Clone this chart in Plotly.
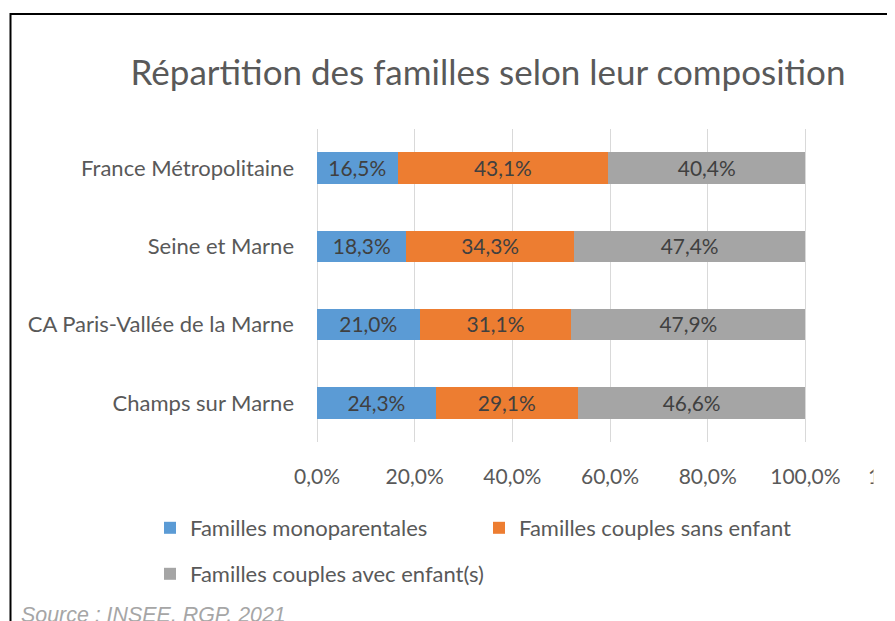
import plotly.graph_objects as go

categories = ["France Métropolitaine", "Seine et Marne", "CA Paris-Vallée de la Marne", "Champs sur Marne"]
series_names = ["Familles monoparentales", "Familles couples sans enfant", "Familles couples avec enfant(s)"]
monoparentales = [16.5, 18.3, 21.0, 24.3]
sans_enfant = [43.1, 34.3, 31.1, 29.1]
avec_enfants = [40.4, 47.4, 47.9, 46.6]
tick_vals = [0, 0.2, 0.4, 0.6, 0.8, 1.0, 1.2]
title_text = "Répartition des familles selon leur composition"
source_text = "Source : INSEE, RGP, 2021"

colors = ["#5B9BD5", "#ED7D31", "#A5A5A5"]
FONT = "Lato"
OFF = 8  # default page body margin
VW, VH = 895, 621
W, H = VW, VH - OFF
# plot area in viewport pixels: x 317..(edge), y 129..442
L = 317 - OFF
R = 0
T = 129 - OFF
B = H - (442 - OFF)
plot_w = W - L - R
plot_h = H - T - B
px_per_unit = 488.4
xmax = plot_w / px_per_unit


def px2paper_x(px):
    return (px - OFF - L) / plot_w


def px2paper_y(py):
    return (H - B - (py - OFF)) / plot_h


fig = go.Figure()
for i, (name, vals) in enumerate(zip(series_names, [monoparentales, sans_enfant, avec_enfants])):
    fig.add_trace(go.Bar(
        y=categories,
        x=[v / 100 for v in vals],
        name=name,
        orientation="h",
        marker=dict(color=colors[i], line=dict(width=0)),
        texttemplate="%{x:.1%}",
        textposition="inside",
        insidetextanchor="middle",
        textfont=dict(family=FONT, size=21.5, color="#404040"),
        legend="legend" if i < 2 else "legend2",
        hoverinfo="skip",
    ))

fig.update_layout(
    width=W, height=H,
    margin=dict(l=L, r=R, t=T, b=B, pad=0),
    barmode="stack",
    bargap=0.6,
    separators=", ",
    plot_bgcolor="white",
    paper_bgcolor="white",
    font=dict(family=FONT, color="#595959"),
    title=dict(text=title_text, xref="container", x=(488 - OFF) / W, xanchor="center",
               yref="container", y=1 - (73 - OFF) / H, yanchor="middle",
               font=dict(family=FONT, size=35, color="#595959")),
    xaxis=dict(range=[0, xmax], tickvals=tick_vals[:-1], tickformat=".1%",
               showgrid=True, gridcolor="#D9D9D9", gridwidth=1,
               zeroline=True, zerolinecolor="#D9D9D9", zerolinewidth=1,
               showline=False, ticks="", ticklabelstandoff=20,
               tickfont=dict(family=FONT, size=21, color="#595959")),
    yaxis=dict(categoryorder="array", categoryarray=categories, autorange="reversed",
               showgrid=False, zeroline=False, showline=False, ticks="",
               ticklabelstandoff=22,
               tickfont=dict(family=FONT, size=22, color="#595959")),
    legend=dict(orientation="h", x=px2paper_x(150), xanchor="left",
                y=px2paper_y(528), yanchor="middle", entrywidth=284,
                bgcolor="rgba(0,0,0,0)", font=dict(family=FONT, size=22, color="#595959"),
                traceorder="normal"),
    legend2=dict(orientation="h", x=px2paper_x(150), xanchor="left",
                 y=px2paper_y(574), yanchor="middle",
                 bgcolor="rgba(0,0,0,0)", font=dict(family=FONT, size=22, color="#595959")),
    showlegend=True,
)

# tick label of the 120% gridline, which lies just past the visible edge
fig.add_annotation(text="120,0%", xref="paper", yref="paper",
                   x=tick_vals[-1] / xmax, y=px2paper_y(475), xanchor="center", yanchor="middle",
                   showarrow=False, font=dict(family=FONT, size=21, color="#595959"))
# the original chart is cropped at about x=873: blank strip beyond it
fig.add_annotation(text=" ", xref="paper", yref="paper",
                   x=px2paper_x(873), y=px2paper_y(475), xanchor="left", yanchor="middle",
                   width=40, height=34, bgcolor="white", borderpad=0,
                   showarrow=False, font=dict(family=FONT, size=21))
fig.add_annotation(text="<i>" + source_text + "</i>", xref="paper", yref="paper",
                   x=px2paper_x(19), y=px2paper_y(615), xanchor="left", yanchor="middle",
                   showarrow=False, font=dict(family="Liberation Sans", size=21.4, color="#A6A6A6"))
fig.add_shape(type="rect", xref="paper", yref="paper",
              x0=px2paper_x(10.5), x1=px2paper_x(960), y0=px2paper_y(14), y1=px2paper_y(700),
              line=dict(color="black", width=2), fillcolor="rgba(0,0,0,0)", layer="above")

fig.write_html("out.html")
